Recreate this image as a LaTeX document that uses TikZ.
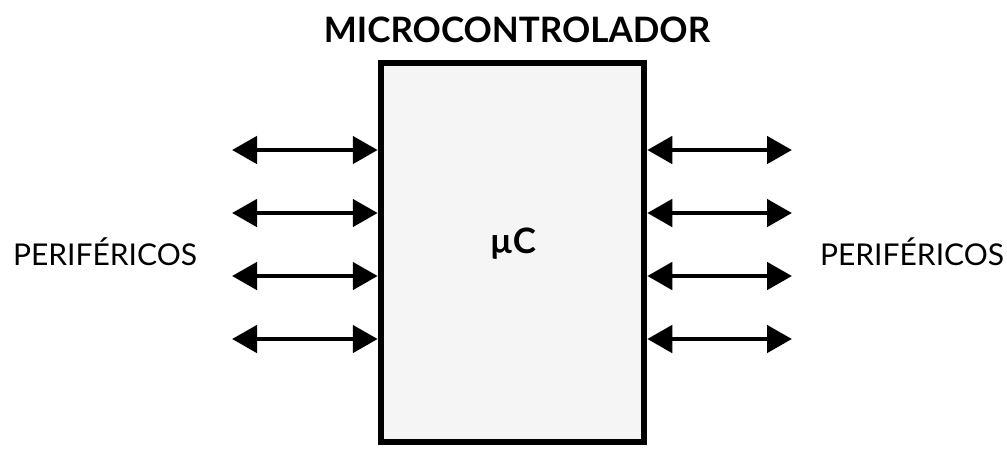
\documentclass[tikz,border=0pt]{standalone}
\usepackage{fontspec}
\setmainfont{Lato}
\usetikzlibrary{arrows.meta}
\begin{document}
\begin{tikzpicture}[x=1pt,y=-1pt,
  bus/.style={line width=4.8pt, {Triangle[length=25pt,width=27pt]}-{Triangle[length=25pt,width=27pt]}},
  lbl/.style={font=\fontsize{30}{36}\selectfont, inner sep=0pt, anchor=base},
  ttl/.style={font=\fontsize{35}{40}\selectfont\bfseries, inner sep=0pt, anchor=base},
  chip/.style={draw, line width=6.5pt, fill=gray!8, minimum width=263pt, minimum height=379pt, inner sep=0pt}]
\useasboundingbox (0,0) rectangle (1007,448);
\node[chip] (mc) at (512.5,252.5) {};
\node[ttl] (title) at (517,42) {MICROCONTROLADOR};
\node[font=\fontsize{35}{40}\selectfont\bfseries, inner sep=0pt, anchor=base] (uc) at (513,253) {µC};
\node[lbl] (pl) at (105,265) {PERIFÉRICOS};
\node[lbl] (pr) at (912,265) {PERIFÉRICOS};
\foreach \i/\y in {1/150,2/213,3/276,4/339}{
  \coordinate (l\i) at (232,\y);
  \coordinate (r\i) at (792,\y);
  \draw[bus] (l\i) -- (l\i -| mc.west);
  \draw[bus] (r\i -| mc.east) -- (r\i);
}
\end{tikzpicture}
\end{document}
